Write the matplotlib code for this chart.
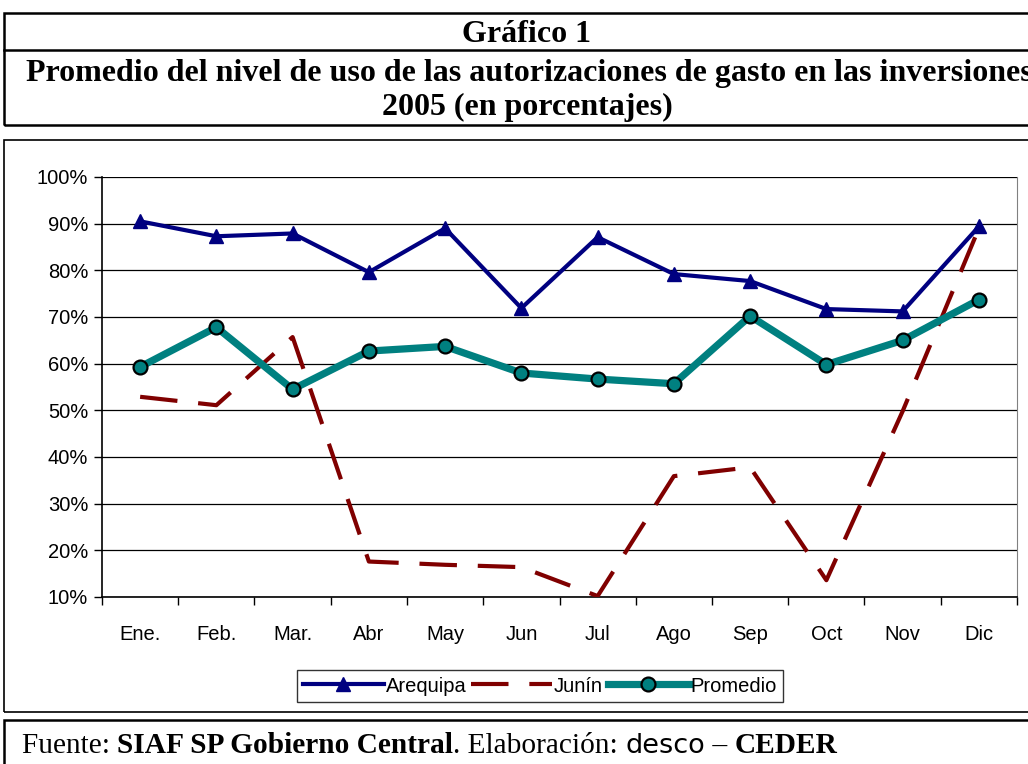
"""Gráfico 1: promedio del nivel de uso de las autorizaciones de gasto, 2005."""

import matplotlib

matplotlib.use("Agg")
import matplotlib.pyplot as plt
from matplotlib.lines import Line2D
from matplotlib.patches import Rectangle
from matplotlib.ticker import FixedLocator, PercentFormatter

meses = ["Ene.", "Feb.", "Mar.", "Abr", "May", "Jun", "Jul", "Ago", "Sep", "Oct", "Nov", "Dic"]
arequipa = [90.5, 87.3, 87.9, 79.6, 89.0, 71.9, 87.1, 79.2, 77.7, 71.7, 71.2, 89.4]
junin = [52.9, 51.1, 65.7, 17.6, 16.9, 16.4, 10.2, 35.9, 37.8, 13.6, 49.8, 89.0]
promedio = [59.3, 67.8, 54.5, 62.7, 63.7, 58.0, 56.7, 55.7, 70.2, 59.8, 65.0, 73.7]

W, H = 1028, 764
SERIF = "Liberation Serif"
SANS = "Liberation Sans"


def fx(px):
    return px / W


def fy(py):
    return 1 - py / H


fig = plt.figure(figsize=(W / 100, H / 100), dpi=100)

# boxes around title, chart and source
for x0, y0, x1, y1 in [(4, 13, 1040, 125), (4, 140, 1040, 712), (4, 720, 1040, 800)]:
    fig.patches.append(Rectangle((fx(x0), fy(y1)), fx(x1 - x0), fy(y0) - fy(y1),
                                 transform=fig.transFigure, fill=False,
                                 edgecolor="black", linewidth=1.8 if y0 != 140 else 1.2))
fig.add_artist(Line2D([fx(4), fx(1040)], [fy(50), fy(50)], color="black", linewidth=1.8))

fig.text(fx(527), fy(34), "Gráfico 1", ha="center", va="center",
         family=SERIF, weight="bold", fontsize=23)
fig.text(fx(529), fy(74), "Promedio del nivel de uso de las autorizaciones de gasto en las inversiones",
         ha="center", va="center", family=SERIF, weight="bold", fontsize=23)
fig.text(fx(527), fy(107), "2005 (en porcentajes)", ha="center", va="center",
         family=SERIF, weight="bold", fontsize=23)

ax = fig.add_axes([fx(102), fy(597), fx(1017 - 102), fy(177) - fy(597)])
x = list(range(len(meses)))

ax.plot(x, arequipa, color="#000080", linewidth=3.0, marker="^", markersize=10,
        label="Arequipa", zorder=4)
ax.plot(x, junin, color="#800000", linewidth=3.0, dashes=(9, 5), label="Junín", zorder=3)
ax.plot(x, promedio, color="#008080", linewidth=5.2, marker="o", markersize=10,
        markerfacecolor="#008080", markeredgecolor="black", markeredgewidth=1.6,
        label="Promedio", zorder=5)

ax.set_xlim(-0.5, len(meses) - 0.5)
ax.set_ylim(10, 100)
ax.set_yticks(range(10, 101, 10))
ax.yaxis.set_major_formatter(PercentFormatter(decimals=0))
ax.set_xticks(x)
ax.set_xticklabels(meses)
ax.xaxis.set_minor_locator(FixedLocator([i - 0.5 for i in range(len(meses) + 1)]))
ax.tick_params(axis="x", which="major", length=0, pad=20, labelsize=14.5)
ax.tick_params(axis="x", which="minor", length=6, direction="out", width=1)
ax.tick_params(axis="y", length=6, direction="out", width=1, pad=4, labelsize=14.5)
for lbl in ax.get_xticklabels() + ax.get_yticklabels():
    lbl.set_family(SANS)
ax.grid(axis="y", color="black", linewidth=0.9)
ax.set_axisbelow(True)
ax.spines["top"].set_visible(False)
ax.spines["right"].set_color("#808080")
ax.spines["left"].set_linewidth(1.2)
ax.spines["bottom"].set_linewidth(1.2)

leg = fig.legend(*ax.get_legend_handles_labels(), loc="center",
                 bbox_to_anchor=(fx(540), fy(686)), ncol=3, frameon=True,
                 fancybox=False, edgecolor="black", handlelength=4.0,
                 handletextpad=0.1, columnspacing=0.25, borderpad=0.3,
                 prop={"family": SANS, "size": 14.5})
leg.get_frame().set_linewidth(1.0)

# source line with mixed fonts, each piece chained to the one before
pieces = [
    ("Fuente: ", SERIF, "normal"),
    ("SIAF SP Gobierno Central", SERIF, "bold"),
    (". Elaboración: ", SERIF, "normal"),
    ("desco", "DejaVu Sans", "normal"),
    (" – ", SERIF, "normal"),
    ("CEDER", SERIF, "bold"),
]
prev = fig.text(fx(22), fy(759), pieces[0][0], fontsize=21.2, family=SERIF,
                weight=pieces[0][2], va="bottom")
for txt, fam, wt in pieces[1:]:
    prev = plt.annotate(txt, xy=(1, 0), xycoords=prev, va="bottom", ha="left",
                        fontsize=21.2 if fam == SERIF else 19.5, family=fam, weight=wt,
                        annotation_clip=False)

fig.savefig("out.png", dpi=100)
